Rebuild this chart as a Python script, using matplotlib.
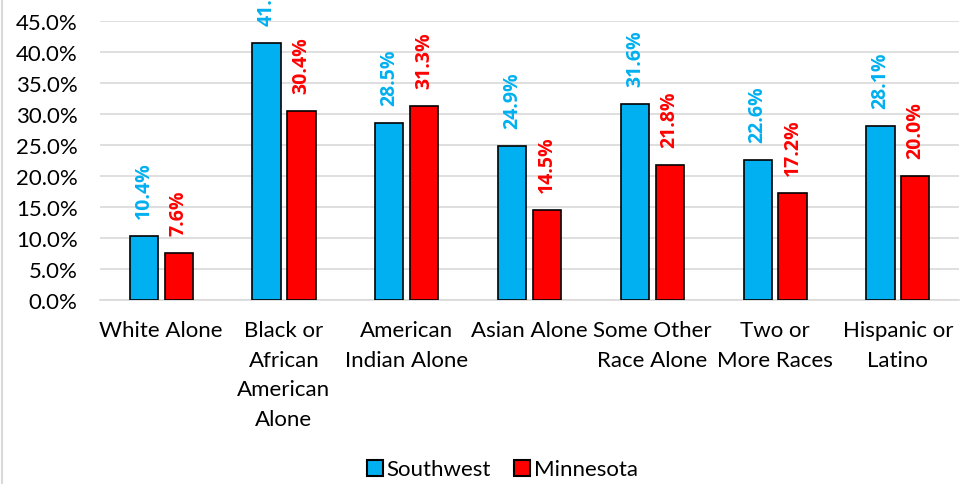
import numpy as np
import matplotlib.pyplot as plt
from matplotlib.lines import Line2D
from matplotlib.ticker import FuncFormatter

categories = ['White Alone', 'Black or\nAfrican\nAmerican\nAlone', 'American\nIndian Alone',
              'Asian Alone', 'Some Other\nRace Alone', 'Two or\nMore Races', 'Hispanic or\nLatino']
southwest = [10.4, 41.4, 28.5, 24.9, 31.6, 22.6, 28.1]
minnesota = [7.6, 30.4, 31.3, 14.5, 21.8, 17.2, 20.0]
series_names = ['Southwest', 'Minnesota']

blue = '#00B0F0'
red = '#FF0000'

plt.rcParams['font.family'] = ['Lato', 'DejaVu Sans']

fig = plt.figure(figsize=(9.69, 4.85), dpi=100)
ax = fig.add_axes([0.103, 0.379, 0.887, 0.576])

x = np.arange(len(categories))
w = 0.23
off = 0.142
b1 = ax.bar(x - off, southwest, w, color=blue, edgecolor='black', linewidth=1.2, zorder=3)
b2 = ax.bar(x + off, minnesota, w, color=red, edgecolor='black', linewidth=1.2, zorder=3)

# rotated value labels above each bar
for bars, vals, col in [(b1, southwest, blue), (b2, minnesota, red)]:
    for bar, v in zip(bars, vals):
        ax.annotate(f'{v:.1f}%', (bar.get_x() + bar.get_width() / 2, v),
                    xytext=(0, 13), textcoords='offset points', rotation=90,
                    ha='center', va='bottom', color=col, fontsize=14,
                    family=['Open Sans', 'DejaVu Sans'], fontweight='bold',
                    annotation_clip=False, zorder=4)

ax.set_xlim(-0.5, len(categories) - 0.5)
ax.set_ylim(0, 45)
ax.set_yticks(np.arange(0, 46, 5))
ax.yaxis.set_major_formatter(FuncFormatter(lambda v, p: f'{v:.1f}%'))
ax.set_xticks(x)
ax.set_xticklabels(categories, fontsize=16, linespacing=1.62)
ax.tick_params(axis='y', labelsize=16, length=0, pad=16)
ax.tick_params(axis='x', length=0, pad=14)
ax.grid(axis='y', color='#D9D9D9', linewidth=1.2, zorder=0)
for s in ['top', 'right', 'left']:
    ax.spines[s].set_visible(False)
ax.spines['bottom'].set_color('#D9D9D9')
ax.spines['bottom'].set_linewidth(1.2)

handles = [Line2D([], [], marker='s', linestyle='none', markersize=11,
                  markerfacecolor=c, markeredgecolor='black', markeredgewidth=1.5)
           for c in (blue, red)]
fig.legend(handles, series_names, loc='center', bbox_to_anchor=(0.517, 0.03),
           ncol=2, frameon=False, fontsize=16, handletextpad=0.05,
           columnspacing=0.9, handlelength=1.0)

fig.add_artist(Line2D([0.002, 0.002], [0, 1], transform=fig.transFigure,
                      color='#D9D9D9', linewidth=1.5))

fig.savefig('out.png', dpi=100)
